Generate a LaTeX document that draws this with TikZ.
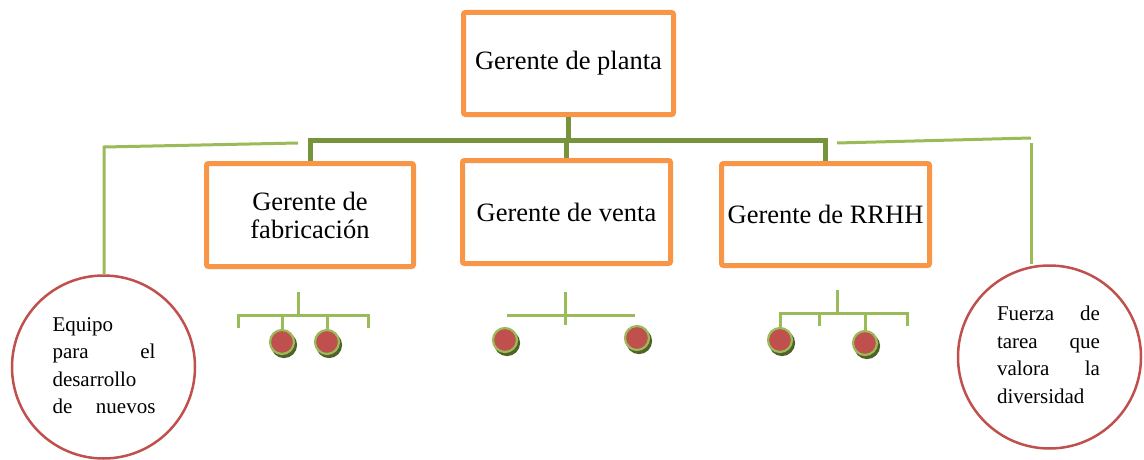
\documentclass[tikz,border=0pt]{standalone}
\usepackage{fontspec}
\setmainfont{LiberationSerif}[Extension=.ttf, UprightFont=*-Regular, BoldFont=*-Bold, ItalicFont=*-Italic, BoldItalicFont=*-BoldItalic]
\usetikzlibrary{shadows}
\definecolor{orangeb}{HTML}{F79646}
\definecolor{dkgreen}{HTML}{77933C}
\definecolor{ltgreen}{HTML}{9BBB59}
\definecolor{redc}{HTML}{C0504D}
\definecolor{shadowg}{HTML}{4F6228}
\tikzset{
  mgr/.style={draw=orangeb, line width=5pt, rounded corners=2pt, align=center,
    font=\fontsize{26.5}{28}\selectfont, inner sep=0pt},
  bigcirc/.style={draw=redc, line width=2.5pt, circle, minimum size=183pt, inner sep=0pt},
  circtext/.style={text width=103pt, align=left, inner sep=0pt,
    font=\fontsize{21}{27.5}\selectfont},
  mainline/.style={draw=dkgreen, line width=5pt},
  thinline/.style={draw=ltgreen, line width=3pt},
  bead/.style={circle, fill=redc, draw=ltgreen, line width=2.2pt, minimum size=24pt, inner sep=0pt,
    general shadow={shadow xshift=2pt, shadow yshift=-3pt, fill=shadowg, draw=shadowg, line width=2.2pt}},
}
\begin{document}
\begin{tikzpicture}[x=1pt,y=-1pt]
\useasboundingbox (0,0) rectangle (1144,460);
% managers
\node[mgr, minimum width=210pt, minimum height=102pt] (top) at (568.5,63.5) {Gerente de planta};
\node[mgr, minimum width=207pt, minimum height=103pt] (b1) at (310,215) {Gerente de\\fabricación};
\node[mgr, minimum width=208pt, minimum height=103pt] (b2) at (566.5,212) {Gerente de venta};
\node[mgr, minimum width=208pt, minimum height=102pt] (b3) at (825.5,214.5) {Gerente de RRHH};
\coordinate (bar) at (568,140);
\draw[mainline] (top.south) -- (top.south |- bar);
\draw[mainline] (b1.north) -- (b1.north |- bar) -- (b3.north |- bar) -- (b3.north);
\draw[mainline] (b2.north |- bar) -- (b2.north);
% big circles
\node[bigcirc] (lc) at (103.5,367) {};
\node[bigcirc] (rc) at (1049.5,357) {};
\node[circtext] (lt) at (104,365.5) {Equipo\\ para\hfill el\\ desarrollo\\ de\hfill nuevos};
\node[circtext] (rt) at (1048.5,355) {Fuerza\hfill de\\ tarea\hfill que\\ valora\hfill la\\ diversidad};
\coordinate (l1) at (298,143);
\coordinate (l2) at (104,147);
\draw[thinline] (l1) -- (l2) -- (l2 |- lc.north);
\coordinate (r1) at (837,143);
\coordinate (r2) at (1031,138);
\coordinate (r3) at (1031,143);
\draw[thinline] (r1) -- (r2);
\draw[thinline] (r3) -- (r3 |- rc.north);
% group 1
\node[bead] (g1a) at (282,342) {};
\node[bead] (g1b) at (327,342) {};
\coordinate (g1s) at (298,292);
\coordinate (g1h) at (298,315);
\coordinate (g1l) at (238,315);
\coordinate (g1r) at (368,315);
\draw[thinline] (g1s) -- (g1h);
\draw[thinline] (g1l |- 0,328) -- (g1l) -- (g1r) -- (g1r |- 0,328);
\draw[thinline] (g1a.north |- g1h) -- (g1a.north);
\draw[thinline] (g1b.north |- g1h) -- (g1b.north);
% group 2
\node[bead] (g2a) at (505,340) {};
\node[bead] (g2b) at (637,338) {};
\coordinate (g2s) at (565,292);
\coordinate (g2e) at (565,325);
\coordinate (g2l) at (507,315);
\coordinate (g2r) at (635,315);
\draw[thinline] (g2s) -- (g2e);
\draw[thinline] (g2l) -- (g2r);
% group 3
\node[bead] (g3a) at (780,340) {};
\node[bead] (g3b) at (865,343) {};
\coordinate (g3s) at (837,290);
\coordinate (g3h) at (837,313);
\coordinate (g3l) at (778,313);
\coordinate (g3r) at (907,313);
\coordinate (g3m) at (819,313);
\draw[thinline] (g3s) -- (g3h);
\draw[thinline] (g3a.north) -- (g3a.north |- g3l) -- (g3r) -- (g3r |- 0,326);
\draw[thinline] (g3m) -- (g3m |- 0,326);
\draw[thinline] (g3b.north |- g3h) -- (g3b.north);
\end{tikzpicture}
\end{document}
